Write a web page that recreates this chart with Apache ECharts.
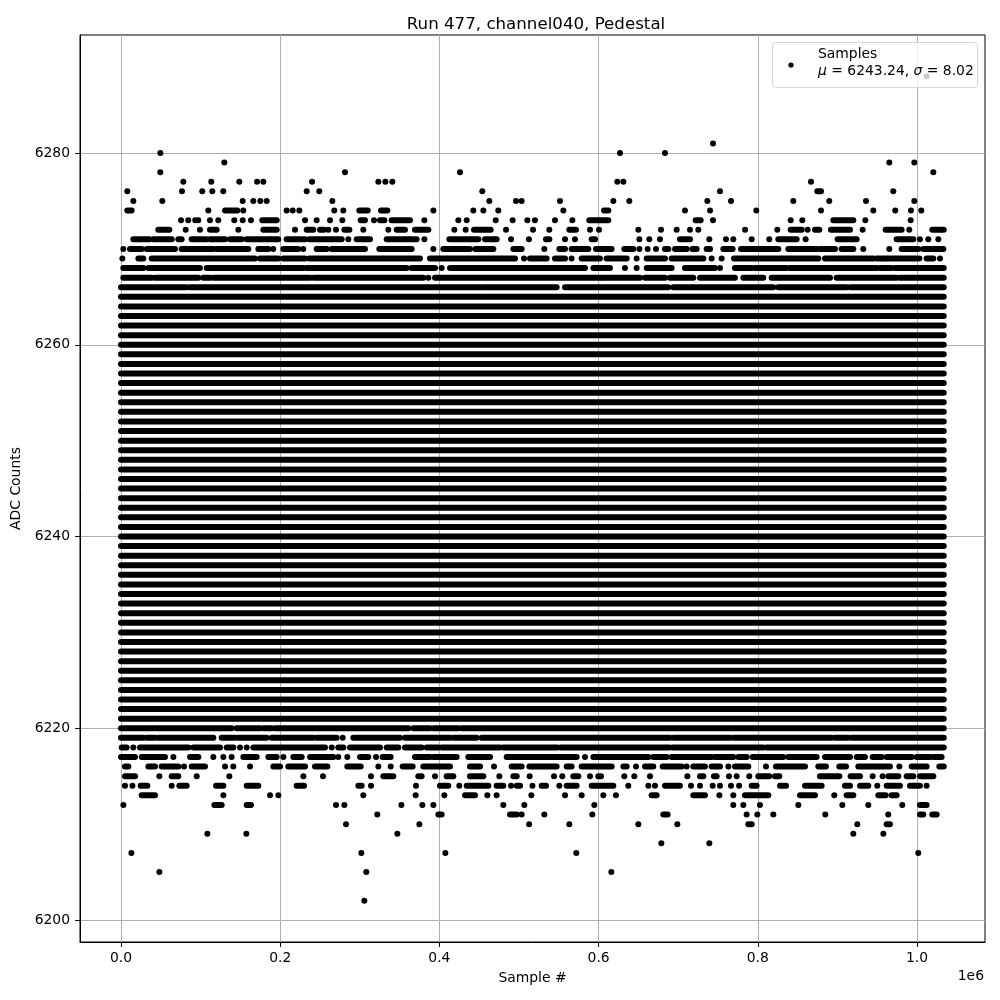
<!DOCTYPE html>
<html><head><meta charset="utf-8">
<script src="https://cdn.jsdelivr.net/npm/echarts@6/dist/echarts.min.js"></script>
<style>html,body{margin:0;padding:0;background:#fff}#c{width:1000px;height:1000px}</style>
</head><body><div id="c"></div>
<script>
// ---- text ----
const titleText = 'Run 477, channel040, Pedestal';
const xAxisName = 'Sample #';
const yAxisName = 'ADC Counts';
const xOffsetText = '1e6';
const legendName = 'Samples';
const legendStats = '{i|μ} = 6243.24, {i|σ} = 8.02';

// ---- ticks ----
const xTickValues = [0, 200000, 400000, 600000, 800000, 1000000];
const xTickLabels = ['0.0', '0.2', '0.4', '0.6', '0.8', '1.0'];
const yTickValues = [6200, 6220, 6240, 6260, 6280];
const yTickLabels = ['6200', '6220', '6240', '6260', '6280'];
const xRange = [-51508, 1085427];
const yRange = [6197.705, 6292.31];

// ---- data (sample numbers in thousands) ----
const sampleSpan = [0, 1033.6];
// ADC levels where every sample position is filled
const solidLevels = [6221, 6222, 6223, 6224, 6225, 6226, 6227, 6228, 6229, 6230,
  6231, 6232, 6233, 6234, 6235, 6236, 6237, 6238, 6239, 6240,
  6241, 6242, 6243, 6244, 6245, 6246, 6247, 6248, 6249, 6250,
  6251, 6252, 6253, 6254, 6255, 6256, 6257, 6258, 6259, 6260,
  6261, 6262, 6263, 6264, 6265];
// ADC levels only partly filled: single samples (number) or runs of samples [from, to]
const fringeLevels = [6288, 6281, 6280, 6279, 6278, 6277, 6276, 6275, 6274, 6273, 6272, 6271, 6270, 6269, 6268, 6267, 6266,
  6220, 6219, 6218, 6217, 6216, 6215, 6214, 6213, 6212, 6211, 6210, 6209, 6208, 6207, 6205, 6202];
const fringeRows = [
  [1012.2],
  [743.7],
  [49.4, 626.9, 683.4],
  [129.8, 965.2, 996.6],
  [49.4, 281.4, 425.9, 1020.5],
  [78.3, 113.4, 148.6, 170.9, 178.8, 240.0, 323.3, 332.1, 340.9, 623.5, 631.1, 866.8],
  [7.9, 76.6, 102.1, 114.7, 128.5, 233.3, 249.1, 453.9, 752.5, [874.8, 879.4], 970.2],
  [15.5, 51.9, 152.9, 166.2, 175.0, 183.0, 265.5, 462.7, 496.2, 503.3, 551.5, 618.5, 638.6, 736.6, 766.3, 844.6, 889.8, 935.9, 996.6],
  [[7.9, 13.4], 109.7, [130.7, 146.1], 153.6, 208.1, 215.7, 224.0, 268.0, 279.3, [299.4, 309.9], [326.6, 334.6], 392.4, 442.6, 455.2, 474.0, 555.7, [606.8, 612.2], 708.5, 740.0, 798.1, 879.4, 945.1, 972.7, 992.4, 1005.4],
  [75.4, 84.5, 93.3, 97.1, 111.8, 122.2, 142.3, 152.9, 163.3, [177.5, 195.6], 231.2, 245.8, 262.6, 278.1, [301.1, 306.5], 317.8, [325.4, 330.8], [340.0, 363.1], 381.1, 423.8, 434.3, 470.7, 492.0, 510.5, 520.0, 545.2, 567.0, [588.3, 612.2], [721.9, 728.2], 743.7, 841.3, 855.9, [894.9, 920.0], 935.1, 992.0],
  [[46.9, 60.7], 81.3, 99.2, [111.8, 120.2], 147.4, [178.8, 195.6], 218.6, [233.3, 241.6], [250.0, 255.0], 260.5, 270.1, [280.6, 286.9], 304.4, 335.8, [346.3, 356.8], [369.3, 386.1], 418.8, 433.0, [443.5, 464.4], 483.7, 517.6, 538.1, [563.2, 571.6], 589.2, 600.5, 649.9, 678.4, 698.1, 714.8, 725.3, 784.0, 824.5, [841.3, 855.1], 862.6, [871.8, 877.3], [891.9, 915.8], 931.7, [960.6, 980.7], 990.3, [1019.2, 1033.6]],
  [[15.5, 35.6], [40.6, 63.7], [72.0, 76.2], [88.8, 107.7], [111.8, 130.7], [136.9, 151.6], [157.9, 187.2], [189.3, 197.6], [208.1, 231.2], [236.5, 277.2], 285.6, [296.1, 312.8], [333.8, 371.4], 381.1, [412.5, 448.9], [457.3, 471.9], 490.0, 512.5, [533.9, 538.1], 557.8, 570.3, [591.3, 595.5], 651.2, 663.7, 677.1, [702.2, 714.8], 739.1, 760.0, 769.2, 792.3, 814.4, [825.8, 848.8], 860.1, [900.3, 924.2], [974.4, 995.4], 1003.7, 1014.2, 1026.8],
  [2.9, [11.3, 26.0], [32.3, 67.8], [76.2, 115.9], [120.2, 159.9], [172.5, 185.1], 191.3, [203.9, 222.7], 229.0, [245.8, 258.4], [264.7, 306.5], [324.5, 365.2], 392.4, [404.9, 438.4], [445.1, 467.8], [492.9, 503.3], 531.8, [550.7, 557.8], [566.1, 587.1], [596.7, 616.4], [632.3, 643.6], 651.2, 661.6, 672.1, [683.4, 687.6], [696.0, 710.6], [717.7, 723.2], [735.7, 740.0], [756.7, 768.4], [778.9, 825.8], [838.3, 873.9], [878.1, 897.0], [905.3, 920.0], 932.5, 965.2, [980.7, 1001.6], [1007.9, 1033.1]],
  [1.7, [21.8, 28.0], [38.6, 168.3], [174.6, 197.6], [203.9, 231.2], [236.5, 375.6], [388.2, 495.0], 506.3, [513.8, 534.7], [545.2, 557.8], 566.1, [578.7, 601.7], [610.1, 635.2], 647.8, [660.4, 683.4], [691.8, 731.6], 742.0, 754.6, [770.1, 876.0], [884.4, 945.1], [949.3, 961.9], [964.0, 999.5], 1002.9, [1012.1, 1020.5], 1028.9],
  [[2.9, 28.0], [34.3, 99.2], [107.7, 229.0], [233.3, 358.9], [365.2, 394.5], 402.8, [413.3, 582.9], [593.4, 614.3], 633.1, 647.8, [660.4, 691.8], [708.5, 746.2], 752.5, [771.3, 792.3], [796.4, 836.2], [840.4, 949.3], [953.5, 968.1], [972.3, 1033.6]],
  [[2.9, 38.6], [42.7, 97.1], [103.4, 111.8], [115.9, 238.0], [242.0, 379.8], 386.1, [394.5, 601.7], [603.8, 652.0], [658.3, 683.4], [689.7, 719.0], [727.4, 771.3], [781.8, 806.9], [817.4, 890.7], [899.0, 974.4], [978.6, 1033.6]],
  [[0, 82.5], [86.7, 459.4], [461.5, 547.3], [557.8, 687.6], [693.9, 819.5], [825.8, 911.6], [915.8, 1033.6]],
  // bottom fringe
  [[0, 40.6], [42.7, 139.0], [145.3, 174.6], [178.8, 189.3], [193.5, 361.0], [367.3, 388.2], [392.4, 423.8], [428.0, 1033.6]],
  [[0, 28.1], [32.3, 42.7], [46.9, 116.0], [126.5, 143.2], [147.4, 183.0], [189.3, 241.6], [245.8, 270.9], 278.5, [291.9, 350.5], [356.8, 413.3], [417.5, 446.8], [453.1, 689.7], [693.9, 765.0], [769.2, 892.8], [896.9, 913.7], [917.9, 1033.6]],
  [[0.9, 7.1], 15.5, [23.9, 84.6], [90.9, 124.4], [132.8, 141.1], 149.5, 157.9, [166.3, 256.3], 264.7, [273.0, 279.3], [287.7, 325.4], [333.8, 348.4], [356.8, 377.7], [384.0, 398.7], [402.8, 476.1], [480.3, 548.1], [552.3, 688.8], [693.0, 806.9], [811.1, 1033.6]],
  [[0, 17.6], [26.0, 55.3], 65.8, [86.7, 97.2], 116.0, 128.6, 139.0, [153.7, 170.5], [185.1, 195.6], 204.0, [216.5, 227.0], [237.5, 266.8], 273.0, 284.3, [300.3, 310.7], 320.4, [328.7, 338.8], [369.3, 388.2], [392.4, 421.7], [436.3, 463.6], [484.5, 572.4], 582.9, [593.4, 662.5], [668.7, 685.5], [691.8, 742.0], [746.2, 769.2], [775.5, 786.0], [793.5, 832.0], [838.3, 873.9], [884.4, 915.8], [924.2, 934.6], [944.3, 955.6], [961.9, 993.2], [999.5, 1016.3], [1020.5, 1030.9]],
  [[5.0, 9.2], [34.4, 42.7], [51.1, 72.0], 79.2, [88.8, 105.5], 130.7, 141.1, 162.1, [191.4, 199.8], [210.2, 231.2], [243.7, 259.2], [284.3, 301.1], 323.3, 338.8, [353.9, 366.4], [379.8, 413.3], [438.4, 451.0], 468.6, [490.8, 503.3], [513.0, 547.3], [559.9, 566.1], [578.7, 616.4], [631.1, 635.2], 647.0, [658.3, 668.7], [680.5, 704.3], 710.6, [719.0, 733.6], [742.0, 752.5], 763.0, [771.3, 788.1], 810.3, [822.8, 859.3], [876.0, 885.6], [902.4, 910.8], [926.3, 966.0], 977.8, [993.3, 1012.1], [1028.0, 1033.6]],
  [[5.0, 17.6], 48.2, [63.7, 72.0], 95.1, 136.1, 229.1, 253.8, 314.1, [329.6, 342.1], [373.5, 377.7], 394.5, [409.1, 417.5], [438.4, 455.2], 475.3, [492.9, 497.1], 513.4, 544.0, 554.4, [568.2, 574.5], 589.2, [599.6, 603.0], 632.3, 644.9, 664.6, 711.5, [727.4, 731.6], [744.9, 748.3], 763.8, 773.4, 789.3, [800.6, 814.4], [821.6, 827.0], [878.1, 902.4], [916.6, 928.4], 944.3, 956.8, [964.0, 976.5], [987.0, 995.4], [1003.7, 1020.5]],
  [5.0, 14.3, [24.7, 33.1], 63.7, [73.3, 82.5], [119.4, 128.6], [157.9, 172.5], [220.7, 229.9], [298.2, 302.3], 314.1, 370.6, [400.7, 411.2], 425.0, [434.3, 461.5], [471.9, 480.3], 490.0, [497.1, 501.3], 516.9, [528.5, 533.9], 550.7, [559.9, 572.4], [591.3, 618.5], 637.3, 662.5, 670.8, [683.4, 702.2], 716.1, 727.4, 743.3, 752.5, 766.3, 776.5, [792.3, 798.5], [827.9, 835.4], [859.3, 880.2], [909.5, 915.8], [928.4, 938.8], 950.1, [961.9, 978.6], [991.2, 1003.7], 1012.1],
  [[26.0, 42.7], 128.6, 187.2, 197.7, 304.4, 370.2, 406.2, [432.2, 444.7], 460.2, 471.9, 515.5, 557.8, 578.7, 605.9, 621.8, [666.6, 672.9], [719.0, 733.6], 751.7, 769.2, [783.9, 813.2], [853.0, 871.8], 896.1, [911.6, 920.0], [951.4, 960.6], [968.1, 974.4]],
  [3.0, [117.3, 126.5], [157.9, 163.3], 270.1, 280.6, 352.2, 378.6, 392.4, 480.3, 506.7, 594.6, 769.2, 781.8, 802.7, 850.9, 906.2, 938.8, 981.5, [1003.7, 1012.1]],
  [322.0, [398.7, 402.8], [488.7, 497.1], 503.3, 531.8, 592.1, [681.3, 686.7], 786.0, 799.4, 819.5, 884.8, 963.9, [1003.7, 1007.9], [1019.2, 1024.7]],
  [282.7, 374.8, 512.7, 563.2, 649.9, 698.9, [788.1, 792.3], 925.0, [961.9, 966.0]],
  [108.5, 157.5, 347.2, 920.0, 957.7],
  [678.8, 739.1],
  [13.0, 301.9, 407.5, 572.0, 1001.6],
  [48.2, 308.2, 616.0],
  [305.7]
];

// ---- build mark list [fromSample, toSample, adc] ----
const runData = [];
solidLevels.forEach(v => runData.push([sampleSpan[0] * 1000, sampleSpan[1] * 1000, v]));
fringeLevels.forEach((v, i) => {
  fringeRows[i].forEach(e => {
    if (Array.isArray(e)) runData.push([e[0] * 1000, e[1] * 1000, v]);
    else runData.push([e * 1000, e * 1000, v]);
  });
});

const FONT = '"DejaVu Sans", "Liberation Sans", sans-serif';
const FS = 13.9;
const DOT_R = 3;

const chart = echarts.init(document.getElementById('c'), null, {renderer: 'canvas'});
chart.setOption({
  animation: false,
  backgroundColor: '#ffffff',
  title: {
    text: titleText, left: 531, top: 11, textAlign: 'center',
    textStyle: {fontFamily: FONT, fontSize: 16.67, fontWeight: 'normal', color: '#000'}
  },
  grid: {left: 80, right: 15, top: 35, bottom: 58, show: true, borderColor: '#000', borderWidth: 1, backgroundColor: 'transparent'},
  xAxis: {
    type: 'value', min: xRange[0], max: xRange[1],
    name: xAxisName, nameLocation: 'middle', nameGap: 29,
    nameTextStyle: {fontFamily: FONT, fontSize: FS, color: '#000'},
    axisLine: {show: true, onZero: false, lineStyle: {color: '#000', width: 1}},
    axisTick: {show: true, inside: false, length: 4.9, lineStyle: {color: '#000', width: 1}, customValues: xTickValues},
    axisLabel: {
      margin: 9, fontFamily: FONT, fontSize: FS, color: '#000', customValues: xTickValues,
      formatter: v => { const k = xTickValues.indexOf(v); return k >= 0 ? xTickLabels[k] : ''; }
    },
    splitLine: {show: true, lineStyle: {color: '#b0b0b0', width: 1}}
  },
  yAxis: {
    type: 'value', min: yRange[0], max: yRange[1],
    name: yAxisName, nameLocation: 'middle', nameGap: 52, nameRotate: 90,
    nameTextStyle: {fontFamily: FONT, fontSize: FS, color: '#000'},
    axisLine: {show: true, onZero: false, lineStyle: {color: '#000', width: 1}},
    axisTick: {show: true, inside: false, length: 4.9, lineStyle: {color: '#000', width: 1}, customValues: yTickValues},
    axisLabel: {
      margin: 10, fontFamily: FONT, fontSize: FS, color: '#000', customValues: yTickValues,
      formatter: v => { const k = yTickValues.indexOf(v); return k >= 0 ? yTickLabels[k] : ''; }
    },
    splitLine: {show: true, lineStyle: {color: '#b0b0b0', width: 1}}
  },
  series: [{
    type: 'custom', name: legendName, coordinateSystem: 'cartesian2d',
    data: runData, encode: {x: [0, 1], y: 2}, clip: true, silent: true,
    renderItem: (params, api) => {
      const p0 = api.coord([api.value(0), api.value(2)]);
      const p1 = api.coord([api.value(1), api.value(2)]);
      return {
        type: 'rect',
        shape: {x: p0[0] - DOT_R, y: p0[1] - DOT_R, width: p1[0] - p0[0] + 2 * DOT_R, height: 2 * DOT_R, r: DOT_R},
        style: {fill: '#000'}
      };
    }
  }],
  graphic: [
    {type: 'rect', z: 100, shape: {x: 772.5, y: 42.5, width: 205, height: 45, r: 3},
      style: {fill: 'rgba(255,255,255,0.8)', stroke: 'rgba(204,204,204,0.8)', lineWidth: 1}},
    {type: 'circle', z: 101, shape: {cx: 791, cy: 65, r: 2.6}, style: {fill: '#000'}},
    {type: 'text', z: 101, x: 818, y: 54,
      style: {text: legendName, fontFamily: FONT, fontSize: FS, fill: '#000', verticalAlign: 'middle', align: 'left'}},
    {type: 'text', z: 101, x: 818, y: 71,
      style: {text: legendStats, fontFamily: FONT, fontSize: FS, fill: '#000', verticalAlign: 'middle', align: 'left',
        rich: {i: {fontFamily: FONT, fontSize: FS, fontStyle: 'italic', fill: '#000'}}}},
    {type: 'text', x: 984, y: 976,
      style: {text: xOffsetText, fontFamily: FONT, fontSize: FS, fill: '#000', verticalAlign: 'middle', align: 'right'}}
  ]
});
</script>
</body></html>
